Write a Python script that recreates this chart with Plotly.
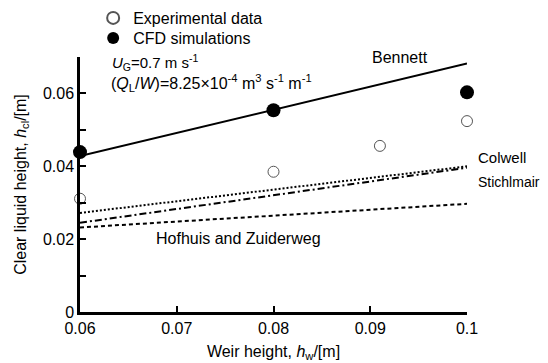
import plotly.graph_objects as go

weir = [0.06, 0.08, 0.1]
cfd = [0.0439, 0.0554, 0.0603]
exp_x = [0.06, 0.08, 0.091, 0.1]
exp_y = [0.0311, 0.0385, 0.0456, 0.0524]
line_x = [0.06, 0.1]
bennett = [0.0428, 0.0682]
colwell = [0.0272, 0.0400]
stichlmair = [0.0245, 0.0396]
hofhuis = [0.0232, 0.0297]

FONT = "Liberation Sans, Arial, sans-serif"
fig = go.Figure()
for y, dash, w in [(bennett, "solid", 2), (colwell, "2px,2px", 2), (stichlmair, "7px,3px,2px,3px", 2),
                   (hofhuis, "4px,3px", 2)]:
    fig.add_trace(go.Scatter(x=line_x, y=y, mode="lines", line=dict(color="black", width=w, dash=dash),
                             showlegend=False, hoverinfo="skip"))
fig.add_trace(go.Scatter(x=exp_x, y=exp_y, mode="markers", name="Experimental data", cliponaxis=False,
                         legend="legend",
                         marker=dict(symbol="circle-open", size=11, color="#555", line=dict(width=1))))
fig.add_trace(go.Scatter(x=weir, y=cfd, mode="markers", name="CFD simulations", cliponaxis=False,
                         legend="legend2",
                         marker=dict(symbol="circle", size=14, color="black")))

anns = [
    dict(x=0.0931, y=0.0700, text="Bennett", xanchor="center", xref="x", size=16),
    dict(x=1.090, y=0.0423, text="Colwell", xanchor="center", xref="paper", size=15),
    dict(x=1.108, y=0.0357, text="Stichlmair", xanchor="center", xref="paper", size=14),
    dict(x=0.0676, y=0.0201, text="Hofhuis and Zuiderweg", xanchor="left", xref="x", size=16),
    dict(x=0.0631, y=0.0684, text="<i>U</i><sub>G</sub>=0.7 m s<sup>-1</sup>", xanchor="left", xref="x", size=15),
    dict(x=0.0630, y=0.0629, text="(<i>Q</i><sub>L</sub>/<i>W</i>)=8.25×10<sup>-4</sup> m<sup>3</sup> s<sup>-1</sup> m<sup>-1</sup>",
         xanchor="left", xref="x", size=16),
]
for a in anns:
    s = a.pop("size")
    a.update(showarrow=False, yanchor="middle", yref="y", font=dict(size=s, color="black", family=FONT))
    fig.add_annotation(**a)

leg = dict(xanchor="left", yanchor="middle", bgcolor="rgba(0,0,0,0)", font=dict(size=16),
           itemsizing="constant")
fig.update_layout(
    width=548, height=363, margin=dict(l=72, r=89, t=49, b=59, autoexpand=False),
    paper_bgcolor="white", plot_bgcolor="white",
    font=dict(family=FONT, size=16, color="black"),
    legend=dict(x=0.034, y=1.153, **leg),
    legend2=dict(x=0.034, y=1.0745, **leg),
    xaxis=dict(range=[0.06, 0.1], dtick=0.01, tick0=0.06, showgrid=False, zeroline=False,
               showline=True, linecolor="black", linewidth=2.5, ticks="inside", ticklen=6, tickwidth=1.5,
               tickcolor="black", tickformat="~g", automargin=False,
               title=dict(text="Weir height, <i>h</i><sub>w</sub>/[m]", font=dict(size=16), standoff=10)),
    yaxis=dict(range=[0, 0.07], dtick=0.02, tick0=0, showgrid=False, zeroline=False,
               showline=True, linecolor="black", linewidth=2.5, ticks="inside", ticklen=6, tickwidth=1.5,
               tickcolor="black", tickformat="~g", automargin=False,
               minor=dict(dtick=0.01, ticks="inside", ticklen=6, tickwidth=1.5, tickcolor="black", showgrid=False),
               title=dict(text="Clear liquid height, <i>h</i><sub>cl</sub>/[m]", font=dict(size=16), standoff=13)),
)
fig.write_html("out.html")
